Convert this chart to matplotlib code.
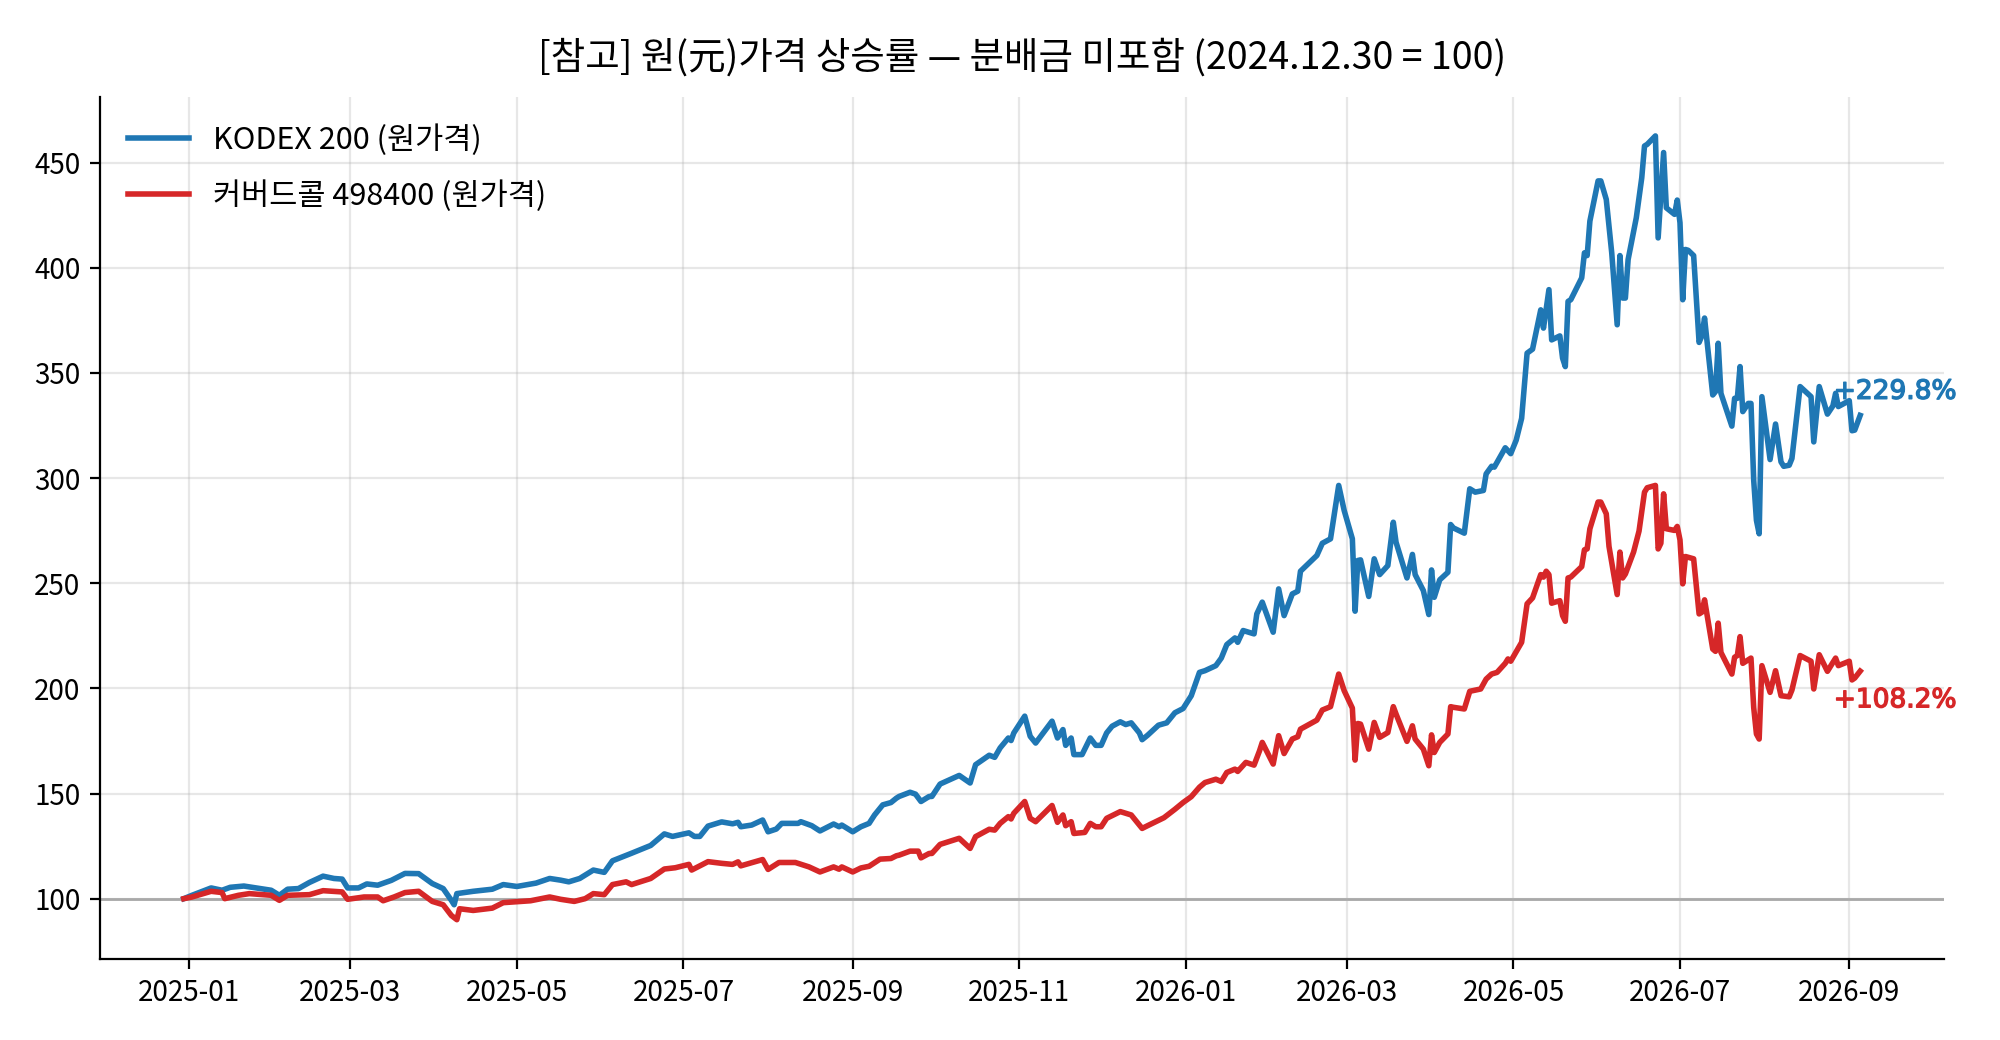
import numpy as np
import pandas as pd
import matplotlib
matplotlib.use("Agg")
import matplotlib.pyplot as plt
import matplotlib.dates as mdates
import matplotlib.patheffects as pe

plt.rcParams['font.family'] = ['Noto Sans CJK KR', 'DejaVu Sans']
plt.rcParams['axes.unicode_minus'] = False

# days counted from 2025-01-01, values rebased (2024.12.30 = 100)
kodex_day = [-2, 1, 8, 12, 15, 20, 30, 33, 36, 40, 44, 49, 53, 56, 58, 62, 65, 69, 74, 79,
             84, 89, 93, 96, 97, 98, 104, 111, 115, 120, 127, 132, 136, 139, 143, 148, 152, 155, 162, 169,
             174, 177, 183, 185, 187, 190, 195, 199, 201, 202, 206, 210, 212, 215, 217, 223, 224, 228, 231, 236,
             238, 239, 243, 246, 249, 251, 254, 257, 259, 260, 264, 266, 268, 271, 272, 275, 282, 286, 288, 293,
             295, 297, 300, 301, 302, 306, 308, 310, 316, 318, 320, 321, 323, 324, 327, 330, 332, 334, 336, 338,
             341, 343, 345, 348, 349, 351, 355, 358, 361, 364, 367, 370, 372, 376, 378, 380, 383, 384, 386, 390,
             391, 393, 397, 399, 401, 404, 406, 407, 413, 415, 418, 421, 423, 426, 427, 428, 429, 432, 434, 436,
             439, 441, 442, 446, 448, 449, 452, 454, 455, 456, 458, 461, 462, 463, 467, 469, 471, 474, 475, 477,
             478, 482, 484, 486, 488, 490, 492, 495, 496, 498, 499, 502, 503, 504, 505, 506, 510, 511, 512, 513,
             516, 517, 519, 521, 523, 524, 525, 526, 527, 530, 532, 533, 534, 537, 538, 540, 541, 544, 545, 546,
             547, 548, 549, 551, 553, 554, 555, 558, 559, 560, 561, 565, 566, 567, 568, 569, 571, 572, 573, 574,
             575, 576, 579, 581, 583, 584, 586, 587, 590, 594, 595, 597, 600, 602, 603, 604, 608, 609, 610, 612]
kodex_val = [100, 101.6, 105.1, 104, 105.4, 106, 104, 101.6, 104.5, 104.8, 107.7, 110.7, 109.6, 109.3, 105.1, 105.1, 107, 106.4, 108.7, 112,
             111.9, 107.2, 104.8, 99.2, 97.1, 102.4, 103.5, 104.5, 106.7, 105.8, 107.4, 109.6, 108.8, 108, 109.6, 113.6, 112.5, 118, 121.6, 125.3,
             130.8, 129.6, 131.3, 129.6, 129.6, 134.5, 136.5, 135.6, 136.3, 134.2, 135, 137.4, 131.8, 133.1, 135.8, 135.8, 136.6, 134.7, 132.2, 135.5,
             134.2, 135, 131.8, 134.2, 135.8, 139.8, 144.6, 145.7, 147.8, 148.6, 150.6, 149.7, 146.2, 148.6, 148.6, 154.5, 158.6, 155, 163.7, 168.2,
             167.2, 171.7, 176.4, 175.2, 178.8, 186.8, 177.2, 174, 184.4, 176.4, 180.4, 172.9, 176.4, 168.5, 168.5, 176.4, 172.9, 172.9, 178.8, 182,
             184.1, 182.8, 183.6, 178.8, 175.6, 177.7, 182.5, 183.6, 188.4, 190.4, 196.5, 207.6, 208.4, 210.8, 214.4, 220.8, 224, 221.9, 227.5, 225.9,
             235.4, 241, 226.7, 247.3, 234.6, 244.9, 246.2, 255.7, 263.2, 269, 271.1, 296.5, 284.6, 271.1, 236.7, 260.8, 261.1, 243.7, 261.6, 254.1,
             258.4, 279, 269.5, 252.5, 263.7, 254.1, 246.5, 235.1, 256.3, 243.3, 251.6, 255.2, 277.9, 276.3, 273.8, 294.9, 293.3, 294.1, 302, 305.6,
             305.2, 314.4, 311.6, 318, 328.4, 359.4, 361.3, 380, 371.3, 389.6, 365.7, 367.6, 357, 353, 384, 384.8, 395.2, 407.1, 405.8, 422.2,
             441.3, 441.3, 432.5, 407.1, 372.9, 405.8, 385.6, 385.6, 403.9, 423.8, 442.8, 457.9, 458.7, 462.7, 414.2, 454.8, 428.5, 425.4, 432.2, 421.4,
             384.8, 408.7, 408.3, 405.8, 364.5, 367.6, 376.1, 339.5, 341.1, 364.1, 340.3, 324.7, 337.9, 337.9, 353, 331.6, 335.5, 335.5, 299, 279.9,
             273.5, 338.7, 308.8, 325.7, 307.7, 305.6, 306.1, 309.3, 343.5, 338.7, 317.2, 343.5, 330.4, 334.3, 340.3, 334, 336.8, 322.5, 322.8, 329.8]

cover_day = [-2, 1, 8, 12, 13, 18, 22, 30, 33, 36, 44, 49, 56, 58, 64, 69, 71, 75, 79, 84,
             89, 93, 96, 98, 99, 104, 111, 115, 125, 132, 136, 141, 145, 148, 152, 155, 160, 162, 169, 174,
             178, 183, 184, 190, 195, 199, 201, 202, 210, 212, 216, 222, 227, 231, 236, 238, 239, 243, 246, 249,
             253, 257, 259, 260, 264, 267, 268, 271, 272, 275, 282, 286, 288, 293, 295, 297, 300, 301, 302, 306,
             308, 310, 316, 318, 320, 321, 323, 324, 328, 330, 332, 334, 336, 341, 345, 349, 351, 357, 361, 364,
             367, 370, 372, 376, 378, 380, 383, 384, 387, 390, 392, 393, 397, 399, 401, 404, 406, 407, 413, 415,
             418, 421, 423, 426, 427, 428, 429, 432, 434, 436, 439, 441, 442, 446, 448, 449, 452, 454, 455, 456,
             458, 461, 462, 463, 467, 469, 473, 475, 477, 479, 482, 483, 484, 488, 490, 492, 495, 496, 497, 498,
             499, 502, 503, 504, 505, 506, 510, 511, 512, 513, 516, 517, 519, 520, 523, 524, 525, 526, 529, 531,
             533, 534, 537, 538, 539, 540, 541, 544, 545, 546, 547, 548, 551, 553, 554, 555, 558, 559, 560, 561,
             565, 566, 567, 568, 569, 572, 573, 574, 575, 576, 579, 581, 583, 586, 587, 590, 594, 595, 597, 600,
             603, 604, 608, 609, 610, 612]
cover_val = [100, 100.8, 103.5, 102.9, 100, 101.6, 102.4, 101.6, 99.2, 101.6, 101.9, 103.8, 103.2, 99.7, 100.8, 100.8, 99, 100.8, 102.9, 103.5,
             98.7, 97.1, 92, 90, 95.2, 94.4, 95.5, 98.1, 99, 100.8, 99.7, 98.7, 100, 102.4, 101.9, 106.7, 108, 106.7, 109.6, 114.1,
             114.7, 116.3, 113.6, 117.6, 116.8, 116.3, 117.5, 115.6, 118.6, 113.9, 117.2, 117.2, 115.1, 112.7, 115.1, 114, 115.1, 112.7, 114.6, 115.4,
             118.8, 119.1, 120.4, 120.7, 122.6, 122.6, 119.4, 121.5, 121.5, 125.8, 128.7, 123.9, 129.5, 133, 132.6, 135.8, 139, 137.9, 140.6, 146.2,
             138.2, 136.6, 144.3, 136.3, 139.8, 134.7, 136.6, 131, 131.5, 135.8, 134.2, 134.2, 138.2, 141.4, 139.8, 133.4, 134.7, 138.5, 142.5, 145.7,
             148.5, 153, 155.2, 156.8, 155.7, 160, 161.6, 160.5, 164.8, 163.5, 170.3, 174.3, 164, 177.5, 169, 175.9, 177, 180.6, 184.9, 189.7,
             191.3, 206.8, 198.9, 190.6, 165.9, 183.3, 183, 171.1, 183.8, 176.7, 179, 191.3, 187.8, 174.8, 182.2, 175.9, 171.1, 163.2, 177.9, 169.5,
             174.3, 178.3, 191.3, 191, 190.2, 198.6, 199.7, 204.4, 206.8, 207.6, 211.9, 214, 212.9, 221.9, 240.2, 243, 254.1, 252.9, 255.7, 254.1,
             240.5, 241.7, 234.6, 231.9, 252.5, 252.9, 257.9, 265.9, 266.3, 275.9, 288.6, 288.6, 283, 267.5, 244.6, 264.8, 252.5, 254.4, 264.8, 274.8,
             293.3, 295.4, 296.5, 266.3, 269, 292.5, 275.9, 275.1, 277, 270.6, 249.7, 262.7, 261.6, 235.4, 236.2, 242.1, 218.7, 217.6, 231, 217.1,
             206.8, 214.8, 215.6, 224.6, 211.9, 214.4, 190.9, 178.3, 175.9, 210.8, 198.1, 208.4, 196.5, 196, 199.2, 215.6, 212.9, 199.7, 216, 208.1,
             214.4, 210.8, 212.9, 204, 204.9, 208.2]

labels = ['KODEX 200 (원가격)', '커버드콜 498400 (원가격)']
colors = ['#1f77b4', '#d62728']

base = pd.Timestamp('2025-01-01')
kodex_dates = base + pd.to_timedelta(kodex_day, unit='D')
cover_dates = base + pd.to_timedelta(cover_day, unit='D')

fig, ax = plt.subplots(figsize=(10, 5.2), dpi=200)
fig.subplots_adjust(left=0.05, right=0.972, bottom=0.078, top=0.907)

ax.axhline(100, color='gray', lw=1, alpha=0.7, zorder=1)
ax.plot(kodex_dates, kodex_val, color=colors[0], lw=2, label=labels[0], zorder=3)
ax.plot(cover_dates, cover_val, color=colors[1], lw=2, label=labels[1], zorder=3)

# end labels
for d, v, c, dy in [(kodex_dates[-1], kodex_val[-1], colors[0], 8.5),
                    (cover_dates[-1], cover_val[-1], colors[1], -10.5)]:
    ax.annotate(f'+{v - 100:.1f}%', xy=(d, v), xytext=(-9.5, dy), textcoords='offset points',
                ha='left', va='center', color=c, fontsize=9.5,
                family='DejaVu Sans',
                path_effects=[pe.withStroke(linewidth=0.5, foreground=c)])

ax.xaxis.set_major_locator(mdates.MonthLocator(bymonth=[1, 3, 5, 7, 9, 11]))
ax.xaxis.set_major_formatter(mdates.DateFormatter('%Y-%m'))
ax.tick_params(labelsize=10)
ax.grid(alpha=0.3)
ax.spines['top'].set_visible(False)
ax.spines['right'].set_visible(False)

ax.legend(loc='upper left', frameon=False, fontsize=11, labelspacing=0.8)
ax.set_title('[참고] 원(元)가격 상승률 — 분배금 미포함 (2024.12.30 = 100)', fontsize=13.5, pad=10)

fig.savefig('out.png')
